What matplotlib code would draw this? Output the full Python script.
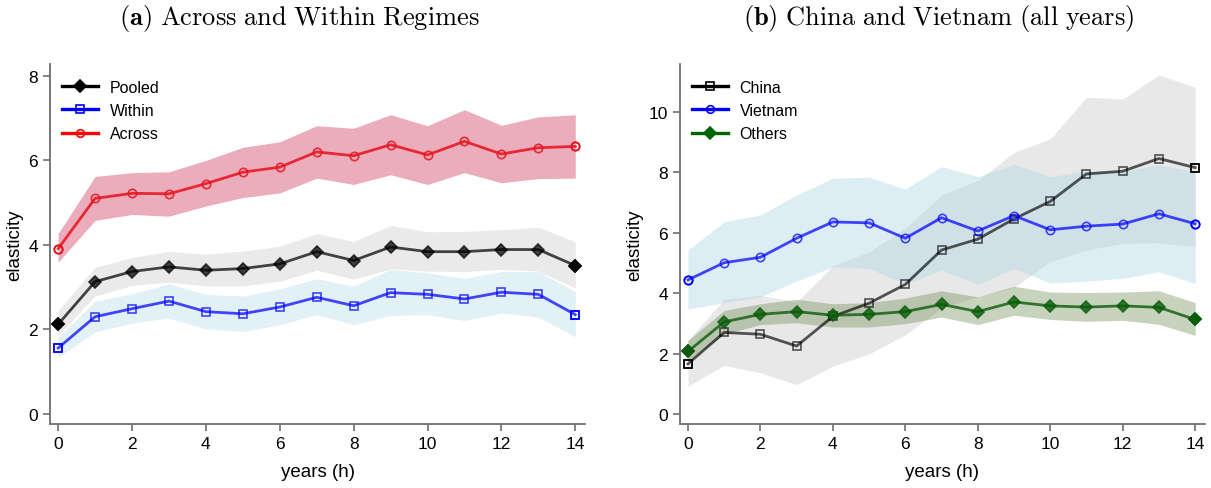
import numpy as np
from matplotlib import pyplot as plt
from matplotlib.lines import Line2D

plt.rcParams['font.family'] = ['Liberation Sans', 'DejaVu Sans']
plt.rcParams['mathtext.fontset'] = 'cm'

years = np.arange(15)

# panel (a): pooled / within / across regimes
pooled = [2.12, 3.13, 3.37, 3.48, 3.40, 3.44, 3.55, 3.84, 3.63, 3.95, 3.84, 3.84, 3.89, 3.89, 3.51]
pooled_hi = [2.45, 3.47, 3.70, 3.85, 3.78, 3.85, 3.97, 4.27, 4.08, 4.46, 4.31, 4.32, 4.36, 4.42, 4.07]
pooled_lo = [1.86, 2.79, 3.04, 3.12, 3.03, 3.03, 3.14, 3.40, 3.19, 3.43, 3.38, 3.37, 3.42, 3.38, 2.98]

within = [1.56, 2.30, 2.49, 2.67, 2.42, 2.37, 2.53, 2.76, 2.56, 2.87, 2.83, 2.72, 2.88, 2.83, 2.35]
within_hi = [1.82, 2.67, 2.84, 3.08, 2.83, 2.79, 2.96, 3.20, 3.02, 3.42, 3.34, 3.21, 3.37, 3.37, 2.90]
within_lo = [1.34, 1.94, 2.15, 2.27, 2.01, 1.95, 2.11, 2.35, 2.11, 2.33, 2.35, 2.21, 2.39, 2.29, 1.82]

across = [3.91, 5.10, 5.22, 5.21, 5.45, 5.72, 5.84, 6.20, 6.11, 6.37, 6.13, 6.45, 6.15, 6.30, 6.33]
across_hi = [4.27, 5.62, 5.71, 5.73, 6.00, 6.31, 6.44, 6.82, 6.76, 7.08, 6.82, 7.20, 6.83, 7.03, 7.08]
across_lo = [3.59, 4.58, 4.72, 4.68, 4.92, 5.12, 5.23, 5.58, 5.43, 5.66, 5.43, 5.71, 5.47, 5.57, 5.58]

# panel (b): China / Vietnam / others
china = [1.66, 2.70, 2.64, 2.25, 3.23, 3.67, 4.29, 5.43, 5.79, 6.46, 7.04, 7.95, 8.04, 8.46, 8.16]
china_hi = [2.44, 3.80, 3.93, 3.71, 4.91, 5.37, 6.15, 7.25, 7.73, 8.67, 9.11, 10.49, 10.43, 11.23, 10.82]
china_lo = [0.92, 1.61, 1.36, 0.97, 1.58, 1.99, 2.62, 3.52, 3.88, 4.19, 5.04, 5.43, 5.65, 5.67, 5.54]

vietnam = [4.44, 5.01, 5.19, 5.82, 6.36, 6.33, 5.82, 6.50, 6.06, 6.57, 6.10, 6.22, 6.29, 6.63, 6.30]
vietnam_hi = [5.43, 6.37, 6.59, 7.25, 7.81, 7.84, 7.45, 8.19, 7.86, 8.27, 7.86, 8.05, 8.03, 8.25, 8.03]
vietnam_lo = [3.47, 3.69, 3.88, 4.40, 4.87, 4.82, 4.30, 4.76, 4.29, 4.82, 4.34, 4.40, 4.49, 4.71, 4.32]

others = [2.07, 3.05, 3.30, 3.39, 3.27, 3.30, 3.39, 3.63, 3.39, 3.71, 3.58, 3.54, 3.58, 3.53, 3.13]
others_hi = [2.44, 3.43, 3.65, 3.80, 3.65, 3.69, 3.84, 4.08, 3.88, 4.23, 4.04, 4.02, 4.04, 4.08, 3.69]
others_lo = [1.77, 2.64, 2.96, 3.02, 2.88, 2.88, 2.99, 3.21, 2.96, 3.27, 3.13, 3.07, 3.10, 2.97, 2.60]


def marker_size(m):
    return 6.5 if m == 'D' else 6


def draw_series(ax, est, lo, hi, band_color, band_alpha, line_color, marker, filled, line_alpha=0.72):
    ax.fill_between(years, lo, hi, color=band_color, alpha=band_alpha, lw=0)
    face = line_color if filled else 'none'
    ax.plot(years, est, color=line_color, alpha=line_alpha, lw=2, marker=marker,
            ms=marker_size(marker), mfc=face, mec=line_color, mew=1.2)
    # end points come out solid
    ends = [0, len(years) - 1]
    ax.plot(years[ends], np.asarray(est)[ends], ls='none', marker=marker, ms=marker_size(marker),
            mfc=face, mec=line_color, mew=1.2, clip_on=False)


def style_axes(ax, ylim, yticks):
    ax.set_xlim(-0.22, 14.27)
    ax.set_ylim(*ylim)
    ax.set_xticks(range(0, 15, 2))
    ax.set_yticks(yticks)
    for side in ['top', 'right']:
        ax.spines[side].set_visible(False)
    for side in ['left', 'bottom']:
        ax.spines[side].set_color('#6e6e6e')
        ax.spines[side].set_linewidth(1.3)
    ax.tick_params(colors='#6e6e6e', labelcolor='black', labelsize=12.5, length=5, width=1.2)
    ax.set_xlabel('years (h)', fontsize=13.5, labelpad=9)
    ax.set_ylabel('elasticity', fontsize=13.5, labelpad=4)


def legend(ax, names, colors, markers, filled):
    handles = []
    for c, m, f in zip(colors, markers, filled):
        handles.append(Line2D([], [], color=c, lw=2.4, marker=m, ms=marker_size(m) - 0.5,
                              mfc=c if f else 'none', mec=c, mew=1.2))
    ax.legend(handles, names, loc='upper left', frameon=False, fontsize=11.5,
              handlelength=2.3, handletextpad=0.7, labelspacing=0.52,
              borderaxespad=0.0, bbox_to_anchor=(0.01, 0.974))


fig = plt.figure(figsize=(12.11, 4.89), dpi=100)
ax1 = fig.add_axes([0.0413, 0.131, 0.442, 0.736])
ax2 = fig.add_axes([0.5615, 0.131, 0.4335, 0.736])

draw_series(ax1, pooled, pooled_lo, pooled_hi, '#c4c4c4', 0.35, 'black', 'D', True)
draw_series(ax1, within, within_lo, within_hi, '#add8e6', 0.35, '#0000ff', 's', False)
draw_series(ax1, across, across_lo, across_hi, '#c8143c', 0.35, '#e8101c', 'o', False, 0.85)
style_axes(ax1, (-0.237, 8.28), [0, 2, 4, 6, 8])
legend(ax1, ['Pooled', 'Within', 'Across'], ['black', '#0000ff', '#ff0000'], ['D', 's', 'o'],
       [True, False, False])

draw_series(ax2, china, china_lo, china_hi, '#c4c4c4', 0.38, 'black', 's', False, 0.65)
draw_series(ax2, vietnam, vietnam_lo, vietnam_hi, '#add8e6', 0.42, '#0000ff', 'o', False)
draw_series(ax2, others, others_lo, others_hi, '#557832', 0.32, '#0a5c0a', 'D', True, 0.8)
style_axes(ax2, (-0.33, 11.59), [0, 2, 4, 6, 8, 10])
legend(ax2, ['China', 'Vietnam', 'Others'], ['black', '#0000ff', '#006400'], ['s', 'o', 'D'],
       [False, False, True])

fig.text(0.247, 0.962, r'$\mathbf{(a)}\ \mathrm{Across\ and\ Within\ Regimes}$',
         ha='center', va='center', fontsize=19)
fig.text(0.775, 0.962, r'$\mathbf{(b)}\ \mathrm{China\ and\ Vietnam\ (all\ years)}$',
         ha='center', va='center', fontsize=19)

fig.savefig('out.png', dpi=100)
